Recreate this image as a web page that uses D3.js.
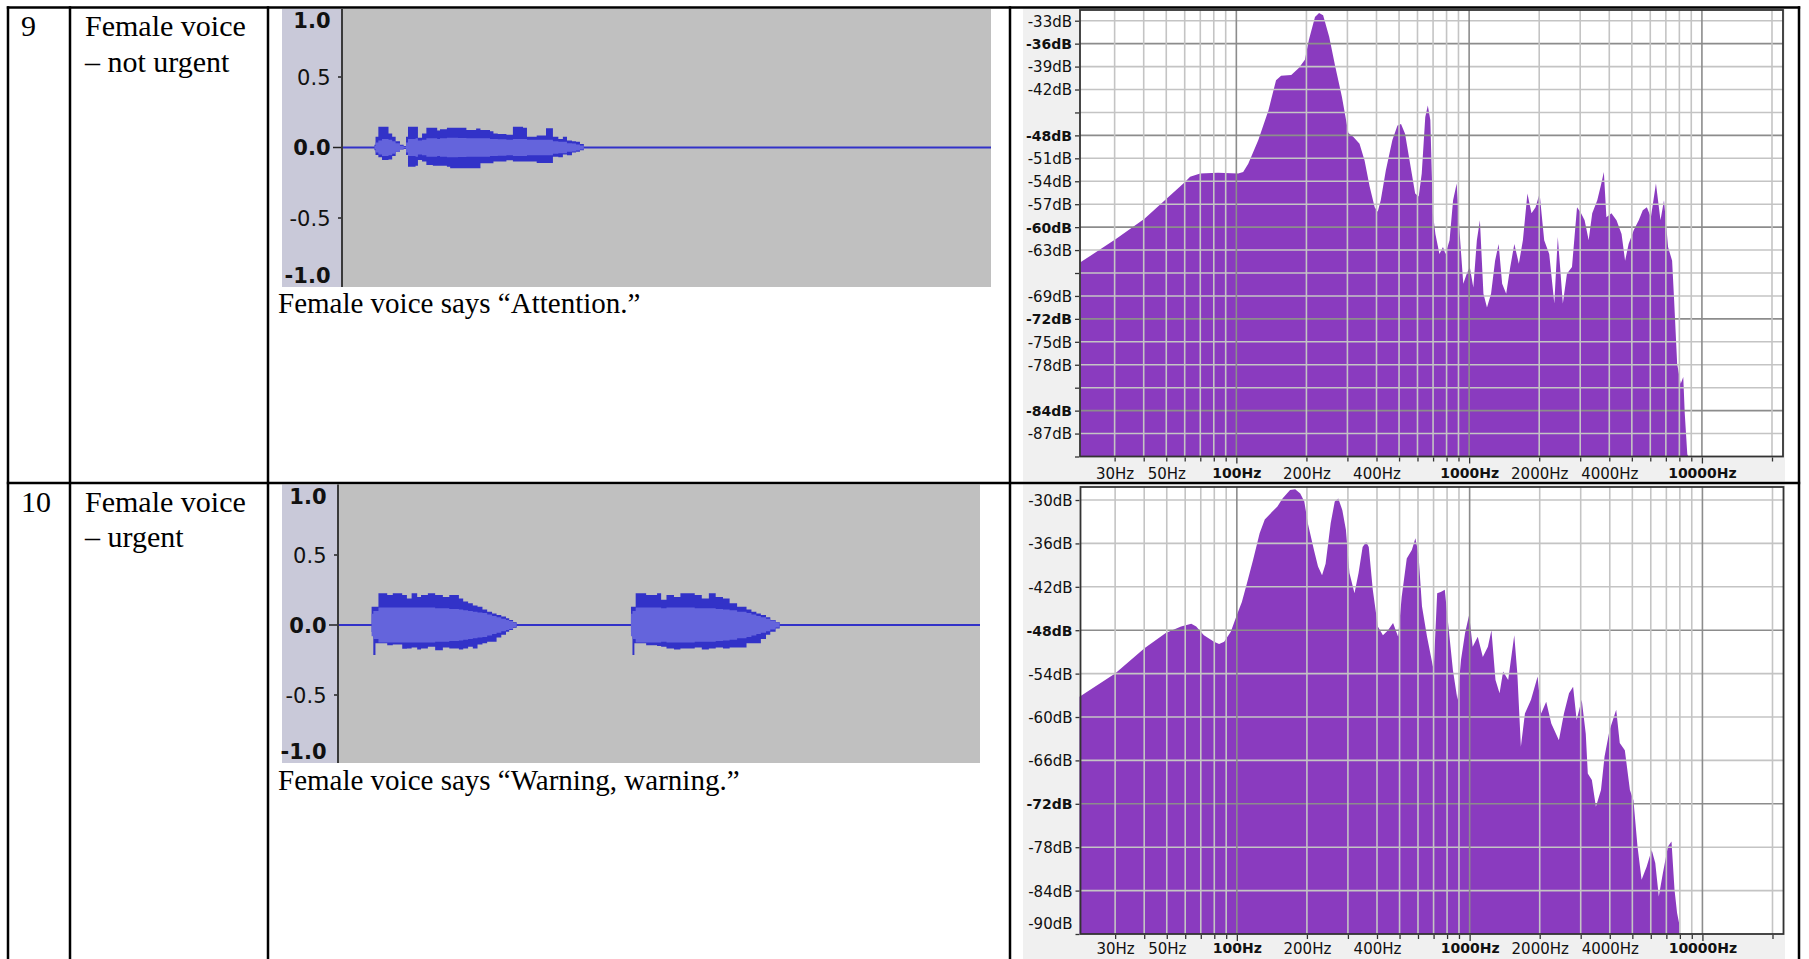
<!DOCTYPE html>
<html><head><meta charset="utf-8">
<script src="https://cdn.jsdelivr.net/npm/d3@7"></script>
<style>body{margin:0;background:#fff;overflow:hidden} svg{display:block}</style>
</head><body>
<svg id="c" width="1809" height="959"></svg>
<script>
// ---------------- DATA ----------------
const rowNumbers = ["9", "10"];
const rowTitles = [["Female voice", "– not urgent"], ["Female voice", "– urgent"]];
const captions = ["Female voice says “Attention.”", "Female voice says “Warning, warning.”"];

const ampTicks = [1.0, 0.5, 0.0, -0.5, -1.0];
const ampTickLabels = ["1.0", "0.5", "0.0", "-0.5", "-1.0"];
const ampBold = [true, false, true, false, true];

// waveform envelopes: [time ms, max, min, rms]
const wave1 = [
  [150,.02,-.02,.01],[155,.077,-.053,.035],[168,.148,-.07,.05],[185,.148,-.089,.06],[215,.10,-.085,.055],
  [232,.077,-.06,.045],[248,.045,-.03,.03],[268,.02,-.015,.012],[285,.01,-.01,.005],[296,.077,-.053,.035],
  [305,.148,-.136,.06],[340,.148,-.13,.065],[351,.07,-.089,.05],[370,.10,-.10,.055],[390,.14,-.124,.065],
  [420,.14,-.13,.065],[440,.12,-.13,.06],[453,.13,-.13,.065],[485,.14,-.136,.07],[500,.14,-.148,.07],
  [536,.14,-.148,.068],[575,.125,-.148,.065],[620,.135,-.148,.065],[640,.125,-.112,.065],[684,.115,-.112,.06],
  [700,.10,-.10,.06],[720,.096,-.10,.058],[760,.09,-.09,.055],[790,.148,-.10,.06],[837,.14,-.10,.06],
  [855,.077,-.10,.055],[900,.085,-.11,.055],[943,.136,-.11,.055],[975,.077,-.065,.045],[1000,.06,-.07,.04],
  [1021,.077,-.05,.04],[1040,.05,-.055,.03],[1063,.045,-.035,.028],[1082,.04,-.03,.022],[1100,.025,-.02,.014],
  [1118,.005,-.005,0]
];
const wave2 = [
  [157,.13,-.05,.08],[165,.13,-.214,.10],[175,.13,-.13,.10],[189,.226,-.13,.125],
  [230,.214,-.145,.125],[256,.226,-.14,.125],[300,.214,-.17,.125],[322,.19,-.167,.125],[344,.226,-.16,.125],
  [370,.20,-.175,.125],[388,.214,-.167,.125],[420,.226,-.155,.125],[454,.214,-.18,.12],[490,.20,-.16,.12],
  [520,.214,-.167,.115],[565,.19,-.175,.11],[585,.167,-.167,.105],[608,.155,-.155,.10],[630,.14,-.167,.095],
  [652,.131,-.14,.09],[675,.11,-.13,.085],[697,.095,-.119,.075],[720,.083,-.119,.065],[741,.071,-.09,.055],
  [763,.06,-.07,.045],[785,.048,-.048,.035],[800,.036,-.036,.028],[818,.02,-.02,.015],[835,.005,-.005,0],
  [1369,.13,-.05,.08],[1376,.13,-.214,.10],[1385,.13,-.13,.10],[1391,.226,-.13,.125],
  [1440,.214,-.145,.125],[1491,.226,-.15,.125],[1510,.18,-.155,.12],[1535,.214,-.167,.125],[1570,.20,-.175,.125],
  [1600,.226,-.167,.125],[1667,.214,-.16,.12],[1700,.19,-.175,.12],[1733,.226,-.167,.12],[1765,.20,-.16,.115],
  [1799,.19,-.167,.11],[1830,.155,-.16,.105],[1865,.131,-.16,.095],[1909,.11,-.131,.085],[1932,.095,-.131,.075],
  [1955,.083,-.13,.065],[1976,.071,-.10,.055],[2000,.055,-.07,.045],[2020,.036,-.048,.032],
  [2045,.02,-.025,.018],[2064,.005,-.005,0]
];

const freqTicks = [30,40,50,60,70,80,90,100,200,300,400,500,600,700,800,900,1000,
                   2000,3000,4000,5000,6000,7000,8000,9000,10000,20000];
const freqMajor = [100, 1000, 10000];
const freqLabelValues = [30, 50, 100, 200, 400, 1000, 2000, 4000, 10000];
const freqLabelText = ["30Hz","50Hz","100Hz","200Hz","400Hz","1000Hz","2000Hz","4000Hz","10000Hz"];

const spec1DbTicks = [-33,-36,-39,-42,-45,-48,-51,-54,-57,-60,-63,-66,-69,-72,-75,-78,-81,-84,-87,-90];
const spec1DbLabels = ["-33dB","-36dB","-39dB","-42dB","","-48dB","-51dB","-54dB","-57dB","-60dB",
                       "-63dB","","-69dB","-72dB","-75dB","-78dB","","-84dB","-87dB",""];
const spec1DbMajor = [-36,-48,-60,-72,-84];

const spec2DbTicks = [-30,-36,-42,-48,-54,-60,-66,-72,-78,-84,-90];
const spec2DbLabels = ["-30dB","-36dB","-42dB","-48dB","-54dB","-60dB","-66dB","-72dB","-78dB","-84dB","-90dB"];
const spec2DbMajor = [-48,-72];

// spectra: [frequency Hz, level dB]
const spec1 = [
[21.4,-64.6],[30.6,-61.5],[40.3,-58.9],[49.3,-56.5],[60.2,-54.1],[63.3,-53.4],[69.9,-53.0],[83.3,-52.9],
[101.8,-53.0],[107,-52.8],[112.5,-51.7],[124.3,-48.6],[137.4,-44.7],[148.1,-40.8],[155.7,-40.2],[172.1,-40.1],
[185.5,-39.2],[197,-38.1],[205,-35.5],[217.7,-32.5],[226.6,-32.0],[235.9,-32.3],[250.5,-35.1],[266,-39.0],
[283.9,-42.9],[302.9,-47.7],[318.4,-48.2],[338.2,-49.1],[355.5,-51.3],[373.8,-54.7],[392.9,-57.4],[404.9,-58.0],
[417.2,-56.5],[438.6,-52.6],[468.1,-48.6],[492.2,-46.7],[509.8,-46.5],[530.6,-47.8],[557.8,-51.7],[586.4,-55.6],
[607.3,-56.0],[625.8,-53.0],[648,-45.6],[664.5,-44.1],[681.3,-46.0],[698.6,-58.2],[716.3,-60.9],[745.5,-63.5],
[772.1,-62.6],[791.6,-63.5],[823.9,-61.7],[853.3,-56.5],[884.1,-54.3],[911.1,-60.9],[943.7,-67.4],[976.8,-66.1],
[1006.5,-65.2],[1042.3,-67.9],[1079.5,-61.7],[1112.4,-59.1],[1152,-68.7],[1193.1,-70.5],[1242,-68.7],[1292.7,-64.4],
[1338.8,-62.2],[1386.3,-67.4],[1443,-68.7],[1502,-65.2],[1564,-62.2],[1635,-64.8],[1702,-61.7],[1780,-55.6],
[1853,-58.2],[1929,-57.4],[2008,-55.6],[2101,-61.7],[2208,-63.5],[2322,-70.0],[2404,-61.3],[2527,-70.0],
[2631,-66.1],[2766,-65.2],[2907,-57.4],[3026,-58.2],[3134,-59.1],[3262,-61.7],[3379,-58.2],[3552,-56.5],
[3697,-54.3],[3791,-52.8],[3887,-58.7],[4087,-58.2],[4296,-59.1],[4516,-60.9],[4677,-64.4],[4843,-62.2],
[5093,-60.4],[5354,-59.1],[5572,-57.8],[5800,-57.4],[6036,-58.7],[6346,-54.3],[6638,-59.1],[6873,-56.5],
[7154,-62.6],[7447,-64.4],[7598,-69.6],[7829,-77.9],[8108,-80.5],[8314,-79.6],[8440,-84.4],[8653,-89.7],[8740,-90]
];
const spec2 = [
[21.1,-57.2],[30,-54.0],[40.1,-50.5],[49.5,-48.4],[57.6,-47.5],[63.7,-47.1],[66.9,-47.5],[72.2,-48.7],
[79.8,-49.6],[83.9,-49.9],[88.2,-49.6],[94.2,-48.2],[100,-45.9],[105.1,-44.1],[110.5,-41.5],[117.4,-38.3],
[125.3,-34.6],[131.8,-32.7],[142.1,-31.6],[149.4,-30.9],[157.1,-29.8],[169.3,-28.6],[178.1,-28.5],[187.2,-29.1],
[194.9,-30.2],[201.8,-33.2],[214.4,-36.9],[223.2,-39.2],[232.3,-40.4],[240.6,-38.8],[253,-33.2],[263.4,-30.2],
[272.8,-29.8],[283.9,-31.4],[294.1,-34.1],[304.6,-40.1],[320.2,-42.9],[333.3,-40.1],[347,-36.5],[359.4,-35.8],
[368.7,-36.5],[383.7,-42.4],[403.4,-47.5],[424.2,-48.7],[446,-48.0],[468.9,-47.0],[493,-48.9],[510.6,-43.4],
[536.9,-38.1],[564.5,-36.9],[584.7,-35.3],[602.6,-37.4],[624.1,-44.7],[656.2,-48.9],[700.4,-53.5],[725.4,-42.9],
[751.3,-42.7],[782,-42.4],[814.1,-48.0],[847.5,-53.5],[886.6,-57.6],[918.3,-52.1],[956,-48.4],[995,-45.9],
[1030.6,-50.3],[1083.6,-48.9],[1139.3,-51.7],[1197.9,-50.3],[1240.7,-48.0],[1291.5,-54.9],[1344.4,-56.7],[1392.5,-53.7],
[1464,-54.9],[1555,-48.7],[1603,-54.0],[1660,-64.1],[1728,-59.5],[1835,-57.6],[1959,-54.4],[2029,-59.5],
[2133,-57.9],[2243,-60.9],[2418,-63.2],[2542,-59.5],[2673,-56.7],[2783,-55.8],[2882,-60.4],[3030,-57.6],
[3154,-62.3],[3218,-67.8],[3350,-68.7],[3487,-72.4],[3667,-70.1],[3797,-65.5],[3993,-61.8],[4262,-59.0],
[4415,-63.6],[4642,-64.6],[4881,-70.1],[5055,-71.5],[5262,-77.9],[5479,-82.5],[5759,-80.7],[6055,-78.4],
[6272,-80.2],[6495,-84.8],[6762,-81.6],[7111,-77.9],[7365,-77.2],[7590,-83.9],[7783,-87.1],[7940,-88.5],[7979,-90]
];

// ---------------- DRAWING ----------------
const svg = d3.select("#c");
const SERIF = "'Liberation Serif', 'DejaVu Serif', serif";
const SANS = "'DejaVu Sans', sans-serif";

const rowTops = [7.5, 483];

rowNumbers.forEach((n, i) => {
  const base = rowTops[i] + 28.5;
  svg.append("text").attr("x", 21).attr("y", base).text(n)
    .attr("font-family", SERIF).attr("font-size", 30);
  rowTitles[i].forEach((t, j) => {
    svg.append("text").attr("x", 85).attr("y", base + j * 35.5).text(t)
      .attr("font-family", SERIF).attr("font-size", 30);
  });
});

const waveCfg = [
  {lx: 282, ax: 342, rx: 991, top: 9, bottom: 287, yR: [288.5, 6.5], cap: 313},
  {lx: 282, ax: 338, rx: 980, top: 484.5, bottom: 763, yR: [765, 485], cap: 790}
];
const waves = [wave1, wave2];

waveCfg.forEach((c, i) => {
  const g = svg.append("g");
  const x = d3.scaleLinear().domain([0, 3000]).range([c.ax, c.rx]);
  const y = d3.scaleLinear().domain([-1, 1]).range(c.yR);
  g.append("rect").attr("x", c.lx).attr("y", c.top).attr("width", c.ax - c.lx).attr("height", c.bottom - c.top).attr("fill", "#c9c9d9");
  g.append("rect").attr("x", c.ax).attr("y", c.top).attr("width", c.rx - c.ax).attr("height", c.bottom - c.top).attr("fill", "#c0c0c0");
  g.append("line").attr("x1", c.ax).attr("x2", c.rx).attr("y1", y(0)).attr("y2", y(0))
    .attr("stroke", "#3232c8").attr("stroke-width", 2);
  const data = waves[i];
  const peak = d3.area().curve(d3.curveStepAfter).x(d => x(d[0])).y0(d => y(d[2])).y1(d => y(d[1]));
  const rms = d3.area().curve(d3.curveStepAfter).x(d => x(d[0])).y0(d => y(-d[3])).y1(d => y(d[3]));
  const blobs = [];
  let cur = [];
  data.forEach((d, k) => {
    if (k > 0 && d[0] - data[k - 1][0] > 300) { blobs.push(cur); cur = []; }
    cur.push(d);
  });
  blobs.push(cur);
  blobs.forEach(b => {
    g.append("path").attr("d", peak(b)).attr("fill", "#3232c8");
    g.append("path").attr("d", rms(b)).attr("fill", "#6464dc");
  });
  g.append("line").attr("x1", c.ax).attr("x2", c.ax).attr("y1", c.top).attr("y2", c.bottom)
    .attr("stroke", "#3a3a3a").attr("stroke-width", 2);
  ampTicks.forEach((v, k) => {
    let ty = y(v);
    const ly = Math.max(c.top + 11.5, Math.min(c.bottom - 12, ty));
    g.append("text").attr("x", c.ax - 11.5).attr("y", ly).attr("dy", "0.36em")
      .attr("text-anchor", "end").attr("font-family", SANS).attr("font-size", 21)
      .attr("font-weight", ampBold[k] ? "bold" : "normal").attr("fill", "#111").text(ampTickLabels[k]);
    if (Math.abs(v) < 1) {
      const len = v === 0 ? 8 : 3;
      g.append("line").attr("x1", c.ax - len - 1).attr("x2", c.ax - 1).attr("y1", ty).attr("y2", ty)
        .attr("stroke", "#222").attr("stroke-width", 1.5);
    }
  });
  svg.append("text").attr("x", 278).attr("y", c.cap).text(captions[i])
    .attr("font-family", SERIF).attr("font-size", 29);
});

const specCfg = [
  {panel: [1023, 9, 1785, 481.5], px0: 1080, px1: 1783, py0: 10, py1: 456.5, db: [-90, -31.6],
   ticks: spec1DbTicks, labels: spec1DbLabels, major: spec1DbMajor, data: spec1, labY: 11},
  {panel: [1023, 484.5, 1785, 959], px0: 1080.5, px1: 1783.5, py0: 487, py1: 934, db: [-90, -28.2],
   ticks: spec2DbTicks, labels: spec2DbLabels, major: spec2DbMajor, data: spec2, labY: 8.5}
];

specCfg.forEach(c => {
  const g = svg.append("g");
  const x = d3.scaleLog().domain([21.3, 22300]).range([c.px0, c.px1]);
  const y = d3.scaleLinear().domain(c.db).range([c.py1, c.py0]);
  g.append("rect").attr("x", c.panel[0]).attr("y", c.panel[1]).attr("width", c.panel[2] - c.panel[0])
    .attr("height", c.panel[3] - c.panel[1]).attr("fill", "#f0f0f0");
  g.append("rect").attr("x", c.px0).attr("y", c.py0).attr("width", c.px1 - c.px0).attr("height", c.py1 - c.py0).attr("fill", "#fff");
  const area = d3.area().x(d => x(d[0])).y0(c.py1).y1(d => y(d[1]));
  g.append("path").attr("d", area(c.data)).attr("fill", "#8a3bbf");
  c.ticks.forEach(t => {
    if (t === -90) return;
    const maj = c.major.includes(t);
    g.append("line").attr("x1", c.px0).attr("x2", c.px1).attr("y1", y(t)).attr("y2", y(t))
      .attr("stroke", maj ? "#8c8c8c" : "#c4c4c4").attr("stroke-width", 1.6);
  });
  freqTicks.forEach(f => {
    const maj = freqMajor.includes(f);
    g.append("line").attr("x1", x(f)).attr("x2", x(f)).attr("y1", c.py0).attr("y2", c.py1)
      .attr("stroke", maj ? "#8c8c8c" : "#c4c4c4").attr("stroke-width", 1.6);
  });
  g.append("rect").attr("x", c.px0).attr("y", c.py0).attr("width", c.px1 - c.px0).attr("height", c.py1 - c.py0)
    .attr("fill", "none").attr("stroke", "#333").attr("stroke-width", 1.8);

  const yAxis = d3.axisLeft(y).tickValues(c.ticks).tickSize(4).tickPadding(3)
    .tickFormat((d, k) => c.labels[k]);
  const ga = g.append("g").attr("transform", `translate(${c.px0 - 1},0)`).call(yAxis);
  ga.select(".domain").remove();
  ga.selectAll(".tick line").attr("stroke", "#333").attr("stroke-width", 1.3);
  ga.selectAll(".tick text").attr("font-family", SANS).attr("fill", "#111")
    .attr("font-size", d => c.major.includes(d) ? 14 : 15)
    .attr("font-weight", d => c.major.includes(d) ? "bold" : "normal")
    .attr("dy", "0.36em")
    .attr("y", d => Math.min(0, (c.py1 - 11) - y(d)));

  const xAxis = d3.axisBottom(x).tickValues(freqTicks).tickSize(4).tickPadding(4)
    .tickFormat(f => { const k = freqLabelValues.indexOf(f); return k >= 0 ? freqLabelText[k] : ""; });
  const gx = g.append("g").attr("transform", `translate(0,${c.py1 + 1})`).call(xAxis);
  gx.select(".domain").remove();
  gx.selectAll(".tick line").attr("stroke", "#333").attr("stroke-width", 1.3)
    .attr("y2", f => freqMajor.includes(f) ? 6 : 4);
  gx.selectAll(".tick text").attr("font-family", SANS).attr("fill", "#111")
    .attr("font-size", f => freqMajor.includes(f) ? 14 : 15)
    .attr("font-weight", f => freqMajor.includes(f) ? "bold" : "normal")
    .attr("y", c.labY).attr("dy", "0.71em");
});

const tb = svg.append("g").attr("stroke", "#000").attr("stroke-width", 2.5);
[8, 70, 268, 1010, 1799].forEach(xv => tb.append("line").attr("x1", xv).attr("x2", xv).attr("y1", 6.3).attr("y2", 959));
[7.5, 483].forEach(yv => tb.append("line").attr("x1", 6.8).attr("x2", 1800.2).attr("y1", yv).attr("y2", yv));
</script>
</body></html>
